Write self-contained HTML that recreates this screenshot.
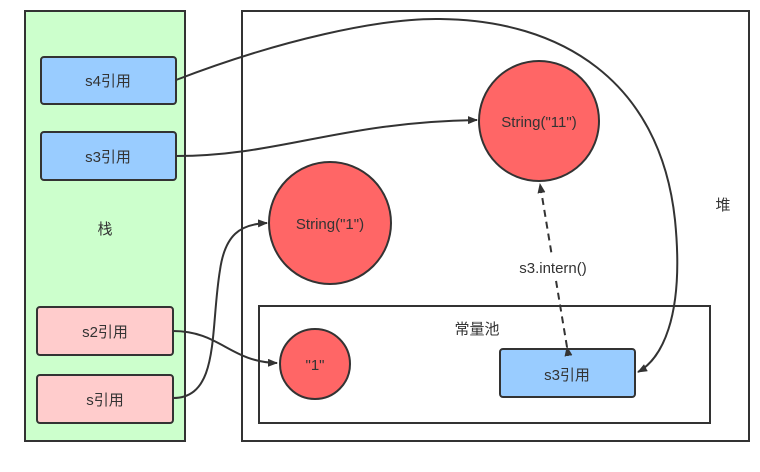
<!DOCTYPE html>
<html><head><meta charset="utf-8"><style>body{margin:0;background:#fff}</style></head><body>
<svg width="760" height="467" xmlns="http://www.w3.org/2000/svg" font-family="Liberation Sans, Noto Sans CJK SC, sans-serif" font-size="15" fill="#333">
<defs><marker id="a" markerWidth="10" markerHeight="8" refX="9" refY="4" orient="auto" markerUnits="userSpaceOnUse"><path d="M0,0L10,4L0,8z" fill="#333"/></marker></defs>
<rect x="25" y="11" width="160" height="430" fill="#ccffcc" stroke="#333" stroke-width="2"/>
<rect x="242" y="11" width="507" height="430" fill="#fff" stroke="#333" stroke-width="2"/>
<rect x="259" y="306" width="451" height="117" fill="none" stroke="#333" stroke-width="2"/>
<g stroke="#333" stroke-width="2">
<rect x="41" y="57" width="135" height="47" rx="3" fill="#99ccff"/>
<rect x="41" y="132" width="135" height="48" rx="3" fill="#99ccff"/>
<rect x="37" y="307" width="136" height="48" rx="3" fill="#ffcccc"/>
<rect x="37" y="375" width="136" height="48" rx="3" fill="#ffcccc"/>
<rect x="500" y="349" width="135" height="48" rx="3" fill="#99ccff"/>
<circle cx="330" cy="223" r="61" fill="#ff6666"/>
<circle cx="539" cy="121" r="60" fill="#ff6666"/>
<circle cx="315" cy="364" r="35" fill="#ff6666"/>
</g>
<g fill="none" stroke="#333" stroke-width="2">
<path d="M176,80 C280,40 380,18 440,19 C560,20 660,80 675,220 C685,320 660,360 638,372" marker-end="url(#a)"/>
<path d="M176,156 C280,156 340,122 477,120" marker-end="url(#a)"/>
<path d="M173,398 C220,398 210,330 220,270 C225,235 240,224 267,223" marker-end="url(#a)"/>
<path d="M173,331 C220,331 230,362 277,363" marker-end="url(#a)"/>
<path d="M567,347 L540,184" stroke-dasharray="7,5" marker-end="url(#a)" marker-start="url(#a)"/>
</g>
<rect x="505" y="257" width="96" height="22" fill="#fff"/>
<g text-anchor="middle">
<text x="108" y="86">s4引用</text>
<text x="108" y="162">s3引用</text>
<text x="105" y="337">s2引用</text>
<text x="105" y="405">s引用</text>
<text x="567" y="380">s3引用</text>
<text x="330" y="229">String("1")</text>
<text x="539" y="127">String("11")</text>
<text x="315" y="370">"1"</text>
<text x="105" y="234">栈</text>
<text x="723" y="210">堆</text>
<text x="477" y="334">常量池</text>
<text x="553" y="273">s3.intern()</text>
</g>
</svg>
</body></html>
